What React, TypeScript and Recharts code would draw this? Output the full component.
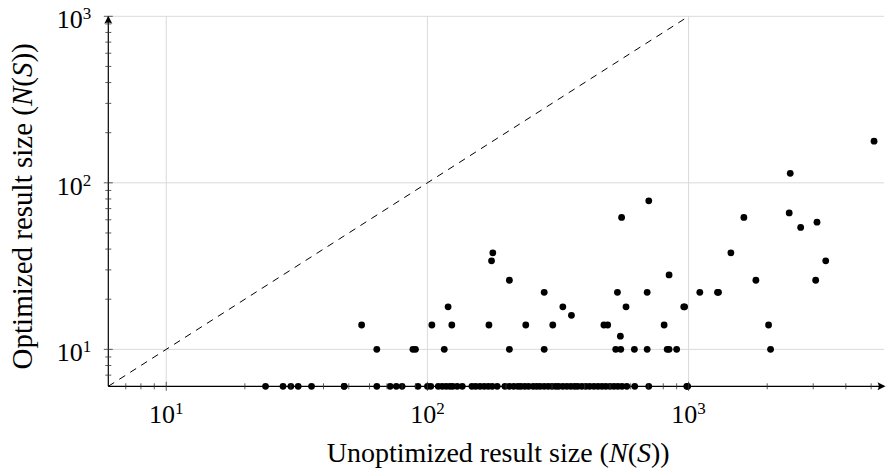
import React from 'react';
import { ScatterChart, Scatter, XAxis, YAxis, CartesianGrid, ReferenceLine } from 'recharts';

const FONT = '"Liberation Serif", "Times New Roman", serif';

// Axis ranges and ticks
const xDomain = [6, 5600];
const yDomain = [6, 1000];
const xTicks = [7, 8, 9, 10, 20, 30, 40, 50, 60, 70, 80, 90, 100, 200, 300, 400, 500, 600, 700, 800, 900, 1000, 2000, 3000, 4000, 5000];
const yTicks = [7, 8, 9, 10, 20, 30, 40, 50, 60, 70, 80, 90, 100, 200, 300, 400, 500, 600, 700, 800, 900, 1000];
const gridValues = [10, 100, 1000];

// Points lying on the lower bound of the optimized axis
const baselineY = 6;
const baselineX = [
  24, 28, 30, 32, 36, 48, 48, 64, 72, 76, 80, 92, 100, 103, 110, 114, 118, 122, 125, 130, 136,
  148, 153, 159, 165, 171, 177, 185, 198, 206, 214, 222, 228, 236, 244, 254, 262, 270, 280, 290,
  300, 310, 318, 330, 342, 354, 366, 376, 390, 404, 418, 434, 450, 466, 482, 500, 518, 536, 556,
  580, 622, 704, 984, 992,
];

// Remaining points
const unoptimized = [
  56, 64, 88, 90, 104, 116, 120, 124, 172, 176, 178, 206, 206, 238, 280, 280, 302, 330, 356, 474,
  490, 526, 534, 548, 550, 554, 576, 620, 694, 694, 704, 806, 828, 842, 842, 900, 958, 966, 1104,
  1290, 1302, 1452, 1628, 1810, 2024, 2060, 2428, 2450, 2686, 3066, 3102, 3350, 5130,
];
const optimized = [
  14, 10, 10, 10, 14, 10, 18, 14, 14, 34, 38, 26, 10, 14, 22, 10, 14, 18, 16, 14,
  14, 10, 22, 12, 10, 62, 18, 10, 22, 10, 78, 14, 10, 28, 10, 10, 18, 18, 22,
  22, 22, 38, 62, 26, 14, 10, 66, 114, 54, 26, 58, 34, 178,
];

const points = [
  ...baselineX.map((x) => ({ x, y: baselineY })),
  ...unoptimized.map((x, i) => ({ x, y: optimized[i] })),
];

const W = 886;
const H = 470;
const M = { top: 16.3, right: 2, bottom: 0, left: 0 };
const Y_AXIS_W = 108.3;
const X_AXIS_H = 83.7;

const isPow10 = (v: number) => Math.abs(Math.log10(v) - Math.round(Math.log10(v))) < 1e-9;

const XTick = (props: any) => {
  const { x, y, payload } = props;
  const v = payload.value;
  const major = isPow10(v);
  const h = major ? 4.5 : 3;
  return (
    <g>
      <line x1={x} x2={x} y1={y - h} y2={y + h} stroke="#333" strokeWidth={0.8} />
      {major && (
        <text x={x} y={y + 37} textAnchor="middle" fontFamily={FONT} fontSize={26} fill="#000">
          10
          <tspan dy={-9} fontSize={17}>{Math.round(Math.log10(v))}</tspan>
        </text>
      )}
    </g>
  );
};

const YTick = (props: any) => {
  const { x, y, payload } = props;
  const v = payload.value;
  const major = isPow10(v);
  const h = major ? 4.5 : 3;
  return (
    <g>
      <line x1={x - h} x2={x + h} y1={y} y2={y} stroke="#333" strokeWidth={0.8} />
      {major && (
        <text x={x - 17} y={y + 12} textAnchor="end" fontFamily={FONT} fontSize={26} fill="#000">
          10
          <tspan dy={-9} fontSize={17}>{Math.round(Math.log10(v))}</tspan>
        </text>
      )}
    </g>
  );
};

const arrowAxis = (dir: 'right' | 'up') => (p: any) => {
  const { x1, y1, x2, y2 } = p;
  let head = '';
  if (dir === 'right') {
    const t = x2 + 1.5;
    head = `M${t},${y2} L${t - 8},${y2 - 4} Q${t - 5.5},${y2} ${t - 8},${y2 + 4} Z`;
  } else {
    const t = y2 - 0.5;
    head = `M${x2},${t} L${x2 - 4},${t + 8} Q${x2},${t + 5.5} ${x2 + 4},${t + 8} Z`;
  }
  return (
    <g>
      <line x1={x1} y1={y1} x2={x2} y2={y2} stroke="#000" strokeWidth={1.2} />
      <path d={head} fill="#000" />
    </g>
  );
};

const Dot = (p: any) => <circle cx={p.cx} cy={p.cy} r={3.4} fill="#000" />;

const XLabel = (p: any) => {
  const vb = p.viewBox || { x: Y_AXIS_W, y: H - X_AXIS_H, width: W - Y_AXIS_W - M.right, height: X_AXIS_H };
  return (
    <text x={vb.x + vb.width / 2 + 2} y={vb.y + 76} textAnchor="middle" fontFamily={FONT} fontSize={28} fill="#000">
      Unoptimized result size (<tspan fontStyle="italic">N</tspan>(<tspan fontStyle="italic">S</tspan>))
    </text>
  );
};

const YLabel = (p: any) => {
  const vb = p.viewBox || { x: 0, y: M.top, width: Y_AXIS_W, height: H - M.top - X_AXIS_H };
  const cx = 32;
  const cy = vb.y + vb.height / 2 + 5;
  return (
    <text x={cx} y={cy} transform={`rotate(-90 ${cx} ${cy})`} textAnchor="middle" fontFamily={FONT} fontSize={29} fill="#000">
      Optimized result size (<tspan fontStyle="italic">N</tspan>(<tspan fontStyle="italic">S</tspan>))
    </text>
  );
};

export default function App() {
  return (
    <div style={{ position: 'absolute', left: 0, top: 0, width: W, height: H, background: '#fff' }}>
      <ScatterChart width={W} height={H} margin={M}>
        <CartesianGrid
          stroke="#dadada"
          strokeWidth={1}
          horizontalValues={gridValues}
          verticalValues={gridValues}
        />
        <XAxis
          type="number"
          dataKey="x"
          scale="log"
          domain={xDomain}
          ticks={xTicks}
          interval={0}
          height={X_AXIS_H}
          axisLine={false}
          tickLine={false}
          tickSize={0}
          tickMargin={0}
          tick={<XTick />}
          label={{ content: XLabel }}
        />
        <YAxis
          type="number"
          dataKey="y"
          scale="log"
          domain={yDomain}
          ticks={yTicks}
          interval={0}
          width={Y_AXIS_W}
          axisLine={false}
          tickLine={false}
          tickSize={0}
          tickMargin={0}
          tick={<YTick />}
          label={{ content: YLabel }}
        />
        <ReferenceLine
          segment={[{ x: 6, y: 6 }, { x: 1000, y: 1000 }]}
          stroke="#000"
          strokeWidth={1}
          strokeDasharray="7 6"
        />
        <ReferenceLine segment={[{ x: xDomain[0], y: yDomain[0] }, { x: xDomain[1], y: yDomain[0] }]} shape={arrowAxis('right')} />
        <ReferenceLine segment={[{ x: xDomain[0], y: yDomain[0] }, { x: xDomain[0], y: yDomain[1] }]} shape={arrowAxis('up')} />
        <Scatter data={points} shape={Dot} isAnimationActive={false} />
      </ScatterChart>
    </div>
  );
}
